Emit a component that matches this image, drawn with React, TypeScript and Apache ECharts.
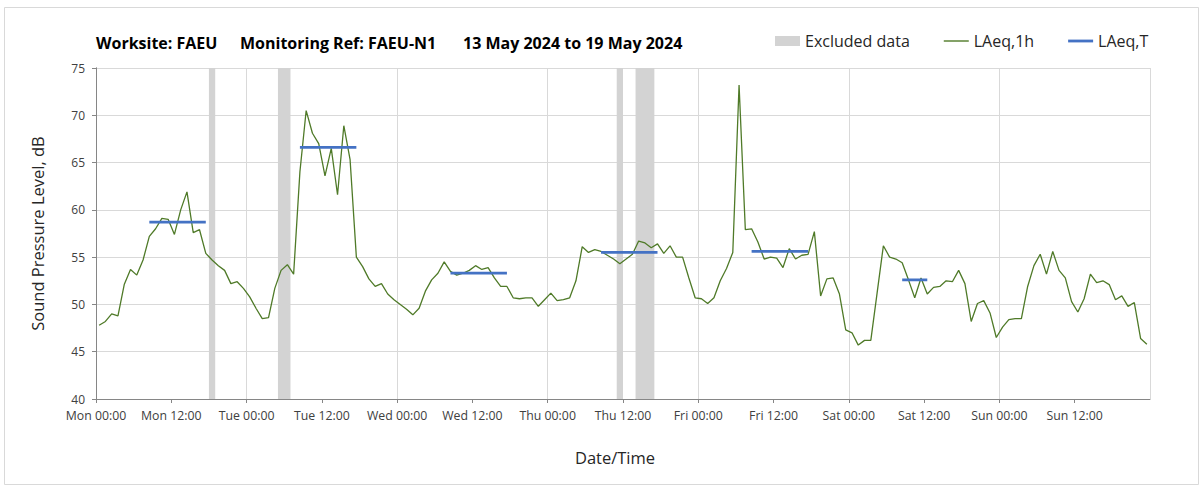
import React, { useEffect, useRef } from "react";
import * as echarts from "echarts";

// Hourly LAeq,1h values, Mon 00:00 -> Sun 23:00 (plotted at the hour's centre)
const LAEQ_1H = [
  47.8, 48.2, 49.0, 48.8, 52.1, 53.7, 53.1, 54.7, 57.2, 58.0, 59.1, 59.0,
  57.4, 60.0, 61.9, 57.6, 57.9, 55.4, 54.7, 54.1, 53.6, 52.2, 52.4, 51.7,
  50.8, 49.6, 48.5, 48.6, 51.7, 53.6, 54.2, 53.2, 64.0, 70.5, 68.1, 67.0,
  63.6, 66.5, 61.6, 68.9, 65.3, 55.0, 54.0, 52.7, 51.9, 52.2, 51.1, 50.5,
  50.0, 49.5, 48.9, 49.6, 51.4, 52.6, 53.3, 54.5, 53.5, 53.1, 53.3, 53.6,
  54.1, 53.7, 53.9, 52.8, 51.9, 51.9, 50.7, 50.6, 50.7, 50.7, 49.8, 50.5,
  51.2, 50.4, 50.5, 50.7, 52.5, 56.1, 55.5, 55.8, 55.6, 55.2, 54.8, 54.3,
  54.8, 55.3, 56.7, 56.5, 56.0, 56.4, 55.4, 56.2, 55.0, 55.0, 52.8, 50.7,
  50.6, 50.1, 50.7, 52.5, 53.8, 55.5, 73.2, 57.9, 58.0, 56.6, 54.8, 55.0,
  54.9, 53.9, 55.9, 54.8, 55.2, 55.3, 57.7, 50.9, 52.7, 52.8, 51.1, 47.3,
  47.0, 45.7, 46.2, 46.2, 51.2, 56.2, 55.0, 54.8, 54.4, 52.6, 50.7, 52.8,
  51.1, 51.8, 51.9, 52.5, 52.4, 53.6, 52.2, 48.2, 50.1, 50.4, 49.1, 46.5,
  47.6, 48.4, 48.5, 48.5, 51.9, 54.1, 55.3, 53.2, 55.6, 53.6, 52.8, 50.3,
  49.2, 50.6, 53.2, 52.3, 52.5, 52.1, 50.5, 50.9, 49.8, 50.2, 46.4, 45.8,
];

// Excluded data windows (hours from Mon 00:00)
const EXCLUDED_START = [18, 29, 83, 86];
const EXCLUDED_END = [19, 31, 84, 89];

// LAeq,T periods (first and last hour index) and values
const PERIOD_START = [8, 32, 56, 80, 104, 128];
const PERIOD_END = [17, 41, 65, 89, 113, 132];
const LAEQ_T = [58.7, 66.6, 53.3, 55.5, 55.6, 52.6];

// Axis tick labels
const DAYS = ["Mon", "Tue", "Wed", "Thu", "Fri", "Sat", "Sun"];
const TIMES = ["00:00", "12:00"];

const HOUR_CENTRE = 0.5;
const FONT = "'Open Sans', 'Noto Sans', sans-serif";
const GREEN = "#4f7a28";
const BLUE = "#4472c4";
const GREY_BAR = "#d3d3d3";

export default function App() {
  const ref = useRef<HTMLDivElement>(null);

  useEffect(() => {
    document.body.style.margin = "0";
    if (!ref.current) return;
    const chart = echarts.init(ref.current, undefined, { renderer: "svg" });

    const lineData = LAEQ_1H.map((v, i) => [i + HOUR_CENTRE, v]);

    const tSeries = LAEQ_T.map((v, k) => ({
      name: "LAeq,T",
      type: "line",
      xAxisIndex: 0,
      yAxisIndex: 0,
      data: [
        [PERIOD_START[k] + HOUR_CENTRE, v],
        [PERIOD_END[k] + HOUR_CENTRE, v],
      ],
      symbol: "none",
      color: BLUE,
      lineStyle: { color: BLUE, width: 2.75 },
      z: 4,
    }));

    const titleStyle = { fontFamily: FONT, fontSize: 16, fontWeight: "bold", color: "#000000" };

    const option: any = {
      animation: false,
      backgroundColor: "#ffffff",
      textStyle: { fontFamily: FONT },
      title: [
        { text: "Worksite: FAEU", left: 96, top: 35, padding: 0, textStyle: titleStyle },
        { text: "Monitoring Ref: FAEU-N1", left: 240, top: 35, padding: 0, textStyle: titleStyle },
        { text: "13 May 2024 to 19 May 2024", left: 463, top: 35, padding: 0, textStyle: titleStyle },
      ],
      legend: {
        left: 775,
        top: 33,
        padding: 0,
        itemWidth: 25,
        itemHeight: 10,
        itemGap: 34,
        symbolKeepAspect: true,
        textStyle: { fontFamily: FONT, fontSize: 16, color: "#262626" },
        data: [
          { name: "Excluded data", icon: "rect", itemStyle: { color: GREY_BAR } },
          { name: "LAeq,1h", icon: "path://M0,0H25V1.4H0Z", itemStyle: { color: GREEN } },
          { name: "LAeq,T", icon: "path://M0,0H25V2.8H0Z", itemStyle: { color: BLUE } },
        ],
      },
      graphic: [
        {
          type: "rect",
          shape: { x: 4.5, y: 7.5, width: 1194, height: 477 },
          style: { fill: "none", stroke: "#d9d9d9", lineWidth: 1 },
          silent: true,
        },
      ],
      grid: { left: 96, top: 68, width: 1054, height: 331, containLabel: false },
      xAxis: [
        {
          type: "value",
          min: 0,
          max: 168,
          interval: 12,
          position: "bottom",
          name: "Date/Time",
          nameLocation: "middle",
          nameGap: 50,
          nameTextStyle: { fontFamily: FONT, fontSize: 16.5, color: "#262626", padding: [0, 16, 0, 0] },
          axisLine: { show: true, lineStyle: { color: "#868686", width: 1 } },
          axisTick: { show: true, length: 4, inside: false, lineStyle: { color: "#868686" } },
          axisLabel: {
            show: true,
            margin: 10,
            fontFamily: FONT,
            fontSize: 12.3,
            color: "#404040",
            showMaxLabel: false,
            formatter: (v: number) => {
              if (v >= 168) return "";
              const d = Math.floor(v / 24);
              const t = (v % 24) / 12;
              return DAYS[d] + " " + TIMES[t];
            },
          },
          splitLine: { show: false },
        },
        {
          type: "value",
          min: 0,
          max: 168,
          interval: 24,
          position: "top",
          axisLine: { show: false },
          axisTick: { show: false },
          axisLabel: { show: false },
          splitLine: { show: true, lineStyle: { color: "#d9d9d9", width: 1 } },
        },
      ],
      yAxis: [
        {
          type: "value",
          min: 40,
          max: 75,
          interval: 5,
          position: "left",
          name: "Sound Pressure Level, dB",
          nameLocation: "middle",
          nameGap: 50,
          nameTextStyle: { fontFamily: FONT, fontSize: 16.5, color: "#262626" },
          axisLine: { show: true, lineStyle: { color: "#868686", width: 1 } },
          axisTick: { show: true, length: 4, lineStyle: { color: "#868686" } },
          axisLabel: { margin: 11, fontFamily: FONT, fontSize: 12, color: "#404040" },
          splitLine: { show: true, lineStyle: { color: "#d9d9d9", width: 1 } },
        },
        {
          type: "value",
          min: 40,
          max: 75,
          interval: 5,
          position: "right",
          axisLine: { show: true, lineStyle: { color: "#868686", width: 1 } },
          axisTick: { show: false },
          axisLabel: { show: false },
          splitLine: { show: false },
        },
      ],
      series: [
        {
          name: "Excluded data",
          type: "line",
          xAxisIndex: 0,
          yAxisIndex: 0,
          data: [],
          color: GREY_BAR,
          symbol: "none",
          z: 1,
          markArea: {
            silent: true,
            itemStyle: { color: GREY_BAR, opacity: 1 },
            data: EXCLUDED_START.map((s, k) => [{ xAxis: s }, { xAxis: EXCLUDED_END[k] }]),
          },
        },
        {
          name: "LAeq,1h",
          type: "line",
          xAxisIndex: 0,
          yAxisIndex: 0,
          data: lineData,
          symbol: "none",
          color: GREEN,
          lineStyle: { color: GREEN, width: 1.3 },
          z: 3,
        },
        ...tSeries,
      ],
    };

    chart.setOption(option);
    return () => chart.dispose();
  }, []);

  return <div ref={ref} style={{ width: 1203, height: 488, background: "#fff" }} />;
}
